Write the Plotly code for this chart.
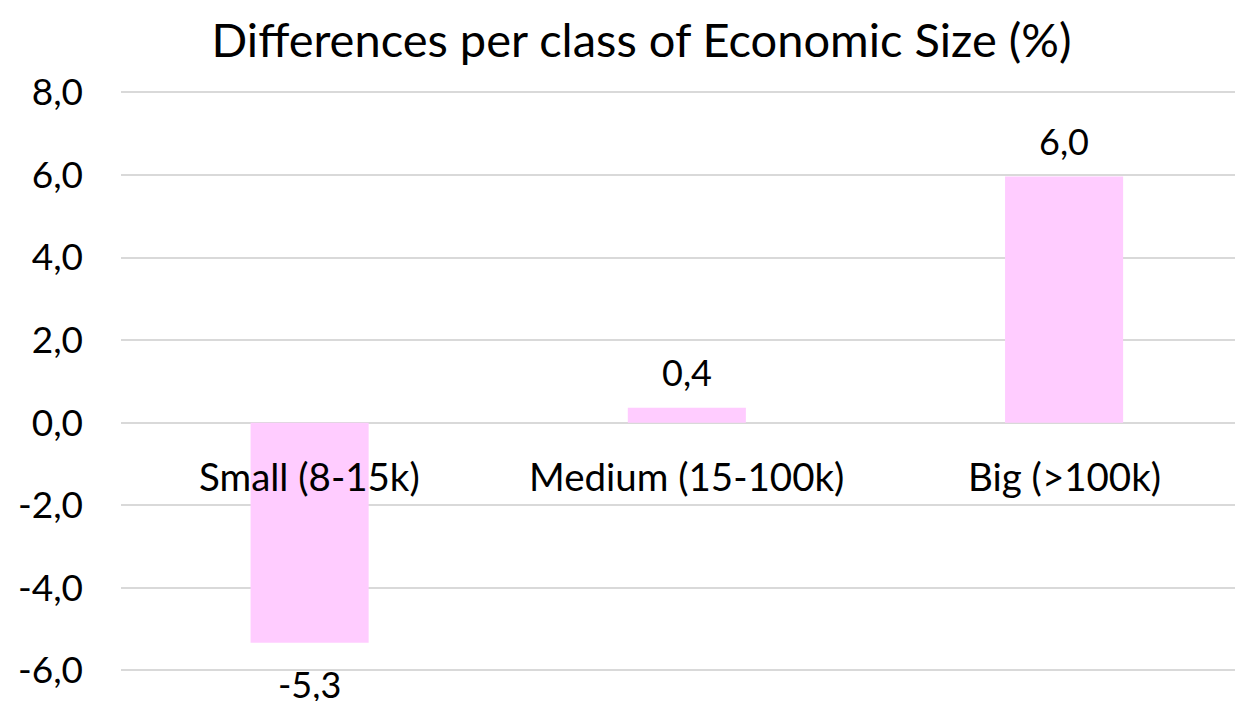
import plotly.graph_objects as go

# chart data
categories = ["Small (8-15k)", "Medium (15-100k)", "Big (>100k)"]
differences = [-5.33, 0.36, 5.96]
y_ticks = [-6, -4, -2, 0, 2, 4, 6, 8]

bar_color = "#FFCCFF"
grid_color = "#D9D9D9"
font_family = "Lato, 'Open Sans', sans-serif"

# the browser page keeps its default 8px body margin, so the figure is
# made 8px smaller on each axis and the margins are shifted to compensate
fig_w, fig_h = 1235, 693


def fmt_comma(v):
    # european decimal comma, one decimal, plain hyphen for negatives
    return f"{v:.1f}".replace(".", ",")


fig = go.Figure()
fig.add_trace(
    go.Bar(
        x=categories,
        y=differences,
        marker=dict(color=bar_color, line=dict(width=0)),
        width=0.313,
        hoverinfo="x+y",
    )
)

annotations = []
# value labels just outside the bar ends
for cat, val in zip(categories, differences):
    annotations.append(
        dict(
            x=cat,
            y=val,
            xref="x",
            yref="y",
            text=fmt_comma(val),
            showarrow=False,
            yanchor="bottom" if val >= 0 else "top",
            yshift=12 if val >= 0 else -17,
            font=dict(size=36, color="#000000", family=font_family),
        )
    )
# category labels sit just under the zero line, like the excel original
for cat in categories:
    annotations.append(
        dict(
            x=cat,
            y=0,
            xref="x",
            yref="y",
            text=cat,
            showarrow=False,
            yanchor="top",
            yshift=-28,
            font=dict(size=38.5, color="#000000", family=font_family),
        )
    )

fig.update_layout(
    width=fig_w,
    height=fig_h,
    separators=",.",
    paper_bgcolor="white",
    plot_bgcolor="white",
    showlegend=False,
    margin=dict(l=113, r=2, t=72, b=10),
    title=dict(
        text="Differences per class of Economic Size (%)",
        x=0.513,
        xanchor="center",
        y=0.953,
        yanchor="middle",
        font=dict(size=47, color="#000000", family=font_family),
    ),
    annotations=annotations,
    font=dict(family=font_family, color="#000000"),
)

fig.update_xaxes(
    range=[-0.5, 2.469],
    showticklabels=False,
    showgrid=False,
    zeroline=False,
    showline=False,
    ticks="",
)

fig.update_yaxes(
    range=[-6.5, 8.3],
    tickmode="array",
    tickvals=y_ticks,
    ticktext=[fmt_comma(v) for v in y_ticks],
    tickfont=dict(size=37, color="#000000", family=font_family),
    ticks="",
    ticklabelstandoff=37,
    showgrid=True,
    gridcolor=grid_color,
    gridwidth=1.5,
    zeroline=True,
    zerolinecolor=grid_color,
    zerolinewidth=1.5,
    showline=False,
)

fig.write_html("out.html")
